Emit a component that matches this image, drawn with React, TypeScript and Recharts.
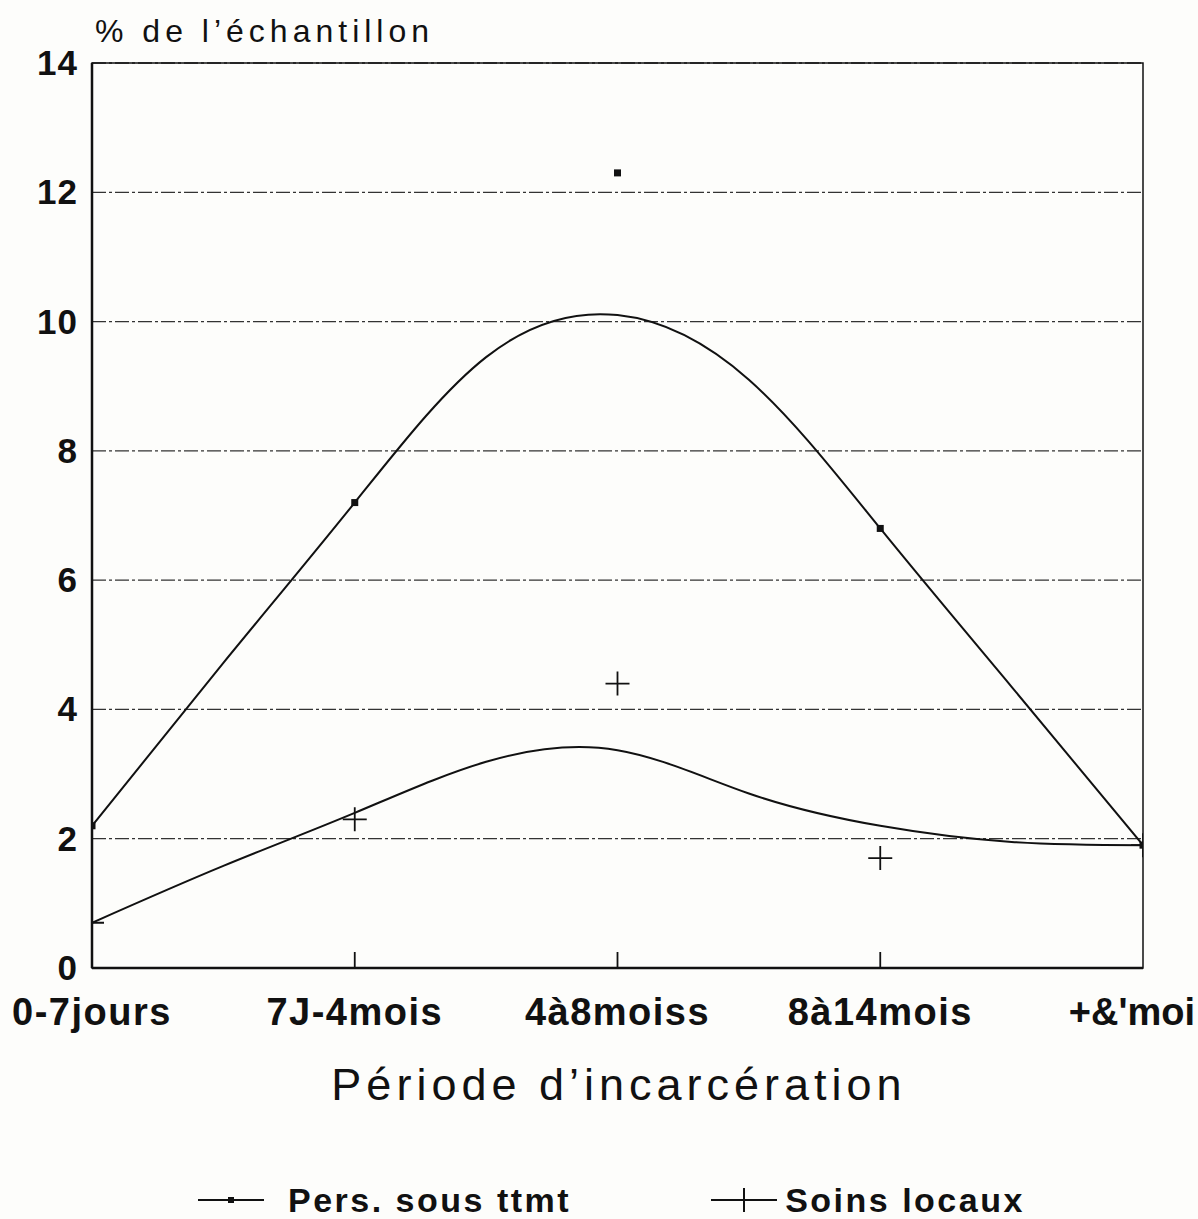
import React from 'react';
import {
  ComposedChart,
  Line,
  Scatter,
  XAxis,
  YAxis,
  CartesianGrid,
  ReferenceArea,
  Legend,
  Customized,
} from 'recharts';

// ---- data ----
const categories = ['0-7jours', '7J-4mois', '4à8moiss', '8à14mois', "+&'moi"];
const categoryPositions = [0, 1, 2, 3, 4];
const persValues = [2.2, 7.2, 12.3, 6.8, 1.9];
const soinsValues = [0.7, 2.3, 4.4, 1.7, 1.9];
// smoothed (fitted) curves at half-category steps
const curveX = [0, 0.5, 1, 1.5, 2, 2.5, 3, 3.5, 4];
const persCurve = [2.2, 4.72, 7.2, 9.45, 10.1, 9.1, 6.8, 4.35, 1.9];
const soinsCurve = [0.7, 1.58, 2.4, 3.19, 3.37, 2.7, 2.2, 1.95, 1.9];
const yTicks = [0, 2, 4, 6, 8, 10, 12, 14];

const seriesNames = { pers: 'Pers. sous ttmt', soins: 'Soins locaux' };
const yAxisTitle = "% de l’échantillon";
const xAxisTitle = "Période d’incarcération";

const pointRows = categoryPositions.map((x, i) => ({
  x,
  pers: persValues[i],
  soins: soinsValues[i],
}));
const persCurveRows = curveX.map((x, i) => ({ x, v: persCurve[i] }));
const soinsCurveRows = curveX.map((x, i) => ({ x, v: soinsCurve[i] }));

const FONT = '"Liberation Sans", Arial, Helvetica, sans-serif';
const INK = '#111';

const SquareDot = (props: any) => {
  const { cx, cy } = props;
  if (cx == null || cy == null) return null;
  return <rect x={cx - 3.5} y={cy - 3.5} width={7} height={7} fill={INK} />;
};

const PlusDot = (props: any) => {
  const { cx, cy } = props;
  if (cx == null || cy == null) return null;
  const s = 12;
  return (
    <path
      d={`M${cx - s},${cy}H${cx + s}M${cx},${cy - s}V${cy + s}`}
      stroke={INK}
      strokeWidth={1.8}
      fill="none"
    />
  );
};

const XTick = (props: any) => {
  const { x, y, payload } = props;
  const label = categories[payload.value] ?? '';
  const isLast = payload.value === categories.length - 1;
  return (
    <g>
      {payload.value > 0 && payload.value < 4 ? (
        <line x1={x} x2={x} y1={y} y2={y - 16} stroke={INK} strokeWidth={1.8} />
      ) : null}
      <text
        x={isLast ? x + 52 : x}
        y={y + 57}
        textAnchor={isLast ? 'end' : 'middle'}
        fontFamily={FONT}
        fontWeight="bold"
        fontSize={38}
        letterSpacing={isLast ? 0 : 1.5}
        fill={INK}
      >
        {label}
      </text>
    </g>
  );
};

const YTick = (props: any) => {
  const { x, y, payload } = props;
  return (
    <text
      x={x}
      y={y + 12}
      textAnchor="end"
      fontFamily={FONT}
      fontWeight="bold"
      fontSize={35}
      letterSpacing={1}
      fill={INK}
    >
      {payload.value}
    </text>
  );
};

const Titles = () => (
  <g>
    <text
      x={95}
      y={42}
      fontFamily={FONT}
      fontSize={32}
      letterSpacing={5}
      fill={INK}
    >
      {yAxisTitle}
    </text>
    <text
      x={619}
      y={1100}
      textAnchor="middle"
      fontFamily={FONT}
      fontSize={45}
      letterSpacing={5}
      fill={INK}
    >
      {xAxisTitle}
    </text>
  </g>
);

const LegendContent = () => (
  <div
    style={{
      display: 'flex',
      alignItems: 'center',
      height: 40,
      fontFamily: FONT,
      fontWeight: 'bold',
      fontSize: 34,
      letterSpacing: 2.5,
      color: INK,
    }}
  >
    <svg width={66} height={30} style={{ marginRight: 24 }}>
      <line x1={0} x2={66} y1={15} y2={15} stroke={INK} strokeWidth={2} />
      <rect x={30} y={12} width={6} height={6} fill={INK} />
    </svg>
    <span>{seriesNames.pers}</span>
    <svg width={66} height={30} style={{ marginLeft: 140, marginRight: 8 }}>
      <line x1={0} x2={66} y1={15} y2={15} stroke={INK} strokeWidth={2} />
      <line x1={33} x2={33} y1={3} y2={27} stroke={INK} strokeWidth={2} />
    </svg>
    <span>{seriesNames.soins}</span>
  </div>
);

export default function App() {
  return (
    <div
      style={{
        position: 'absolute',
        left: 0,
        top: 0,
        width: 1198,
        height: 1219,
        background: '#fdfdfb',
      }}
    >
      <ComposedChart
        width={1198}
        height={1219}
        data={pointRows}
        margin={{ top: 63, right: 55, left: 12, bottom: 181 }}
      >
        <CartesianGrid
          horizontal
          vertical={false}
          stroke="#333"
          strokeWidth={1.3}
          strokeDasharray="14 3 3 3"
        />
        <XAxis
          dataKey="x"
          type="number"
          domain={[0, 4]}
          ticks={categoryPositions}
          interval={0}
          height={30}
          tickSize={0}
          tickMargin={0}
          axisLine={{ stroke: INK, strokeWidth: 2.5 }}
          tickLine={false}
          tick={<XTick />}
          allowDataOverflow
        />
        <YAxis
          type="number"
          domain={[0, 14]}
          ticks={yTicks}
          interval={0}
          width={80}
          tickSize={0}
          tickMargin={14}
          axisLine={{ stroke: INK, strokeWidth: 2.5 }}
          tickLine={false}
          tick={<YTick />}
          allowDataOverflow
        />
        <ReferenceArea
          x1={0}
          x2={4}
          y1={0}
          y2={14}
          fill="none"
          fillOpacity={0}
          stroke={INK}
          strokeWidth={1.5}
          ifOverflow="visible"
        />
        <Line
          data={persCurveRows}
          dataKey="v"
          type="natural"
          stroke={INK}
          strokeWidth={2}
          dot={false}
          activeDot={false}
          isAnimationActive={false}
          legendType="none"
        />
        <Line
          data={soinsCurveRows}
          dataKey="v"
          type="natural"
          stroke={INK}
          strokeWidth={2}
          dot={false}
          activeDot={false}
          isAnimationActive={false}
          legendType="none"
        />
        <Scatter
          name={seriesNames.pers}
          dataKey="pers"
          fill={INK}
          shape={<SquareDot />}
          isAnimationActive={false}
        />
        <Scatter
          name={seriesNames.soins}
          dataKey="soins"
          fill={INK}
          shape={<PlusDot />}
          isAnimationActive={false}
        />
        <Legend
          content={<LegendContent />}
          wrapperStyle={{ position: 'absolute', left: 198, top: 1180, width: 900, height: 40, bottom: 'auto' }}
        />
        <Customized component={Titles} />
      </ComposedChart>
    </div>
  );
}
